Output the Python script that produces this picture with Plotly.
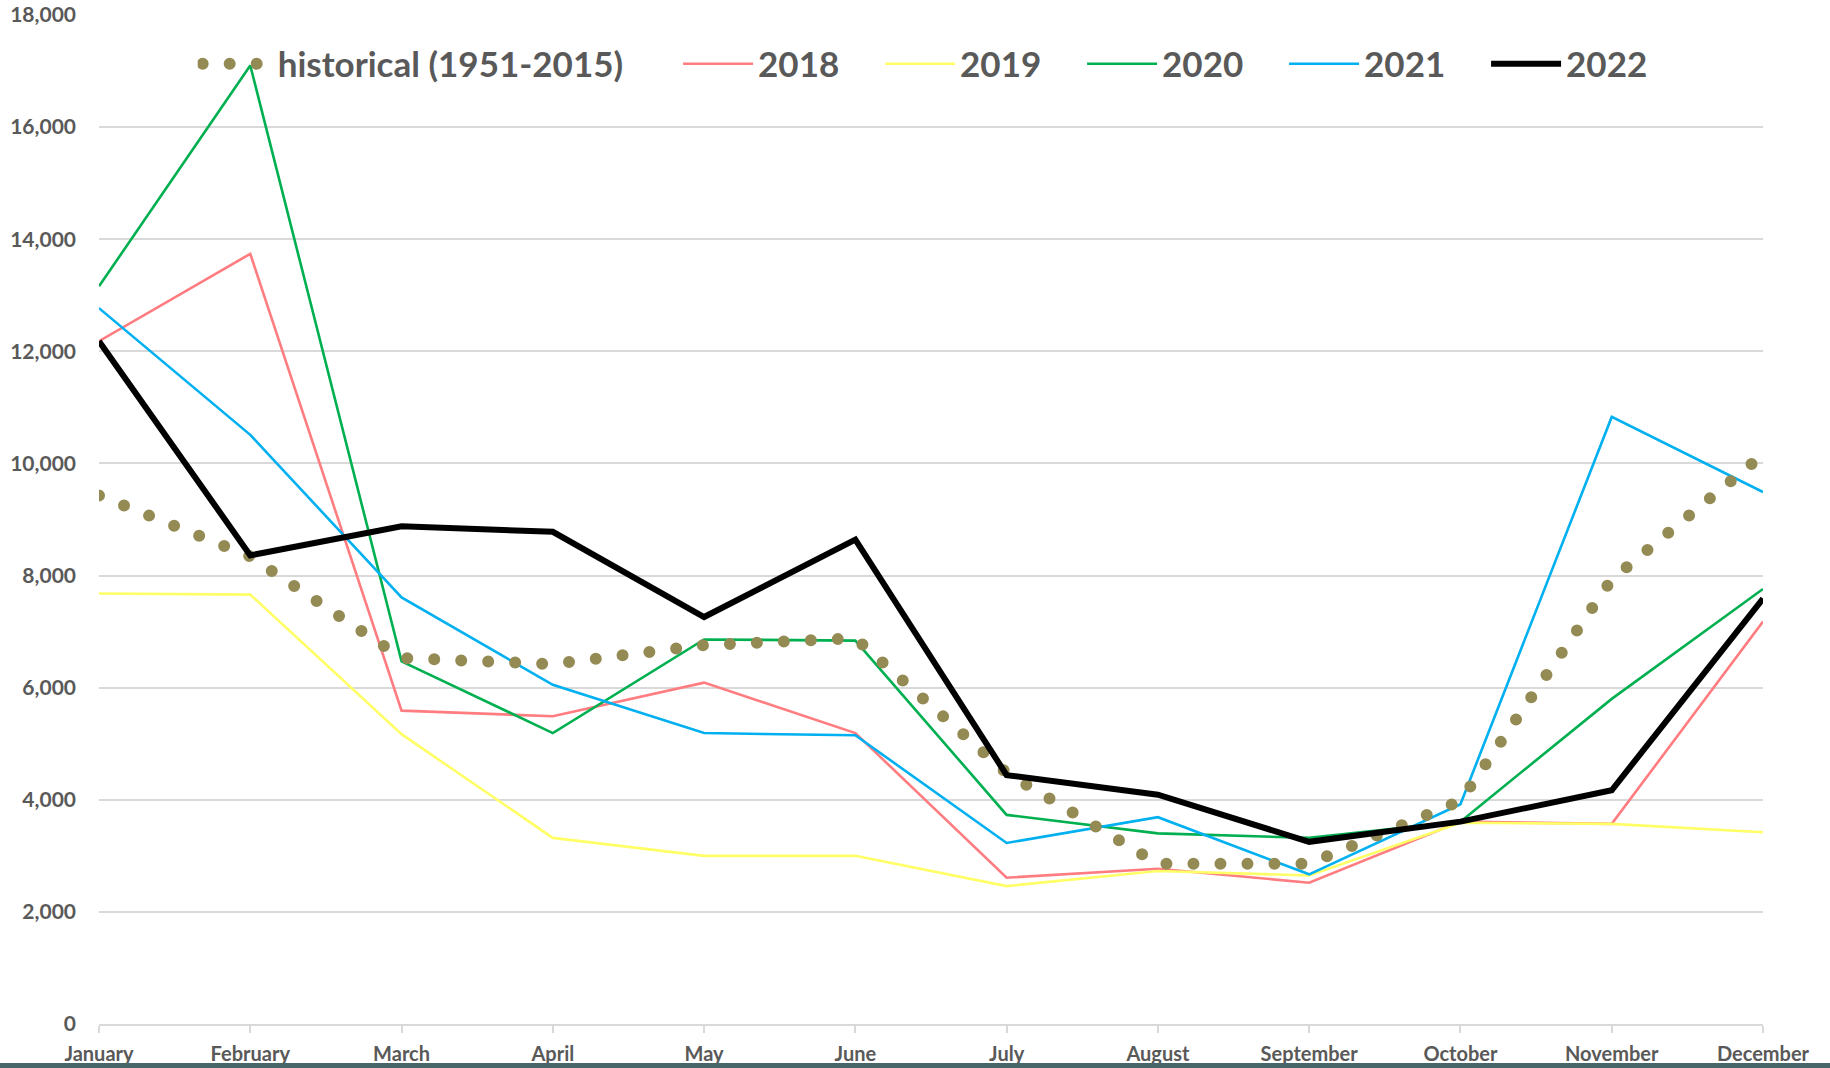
import plotly.graph_objects as go

months = ["January", "February", "March", "April", "May", "June", "July",
          "August", "September", "October", "November", "December"]

historical = [9430, 8340, 6530, 6420, 6760, 6880, 4480, 2860, 2860, 3980, 7930, 10160]
y2018 = [12180, 13740, 5590, 5490, 6090, 5190, 2610, 2770, 2520, 3610, 3570, 7180]
y2019 = [7680, 7660, 5170, 3320, 3000, 3000, 2460, 2730, 2650, 3590, 3570, 3420]
y2020 = [13160, 17100, 6470, 5190, 6860, 6840, 3730, 3400, 3320, 3610, 5800, 7760]
y2021 = [12770, 10510, 7610, 6050, 5190, 5150, 3230, 3690, 2670, 3920, 10830, 9490]
y2022 = [12180, 8360, 8880, 8780, 7260, 8640, 4440, 4090, 3250, 3610, 4170, 7590]

yticks = [0, 2000, 4000, 6000, 8000, 10000, 12000, 14000, 16000, 18000]

FONT = "Lato"
GREY = "#595959"

fig = go.Figure()

def add(name, vals, color, width, legend, dash="solid"):
    fig.add_trace(go.Scatter(
        x=months, y=vals, name=name, mode="lines",
        line=dict(color=color, width=width, dash=dash),
        legend=legend, hoverinfo="skip"))

add("2018", y2018, "#ff7c80", 2.6, "legend2")
add("2019", y2019, "#ffff66", 2.6, "legend2")
add("2020", y2020, "#00b050", 2.6, "legend2")
add("2021", y2021, "#00b0f0", 2.6, "legend2")
add("historical (1951-2015)", historical, "#948a54", 12, "legend", dash="dot")
add("2022", y2022, "#000000", 6, "legend2")

legend_font = dict(family=FONT, size=35, color=GREY, weight=700)

fig.update_layout(
    width=1830, height=1068,
    margin=dict(l=99, r=67, t=15, b=44, autoexpand=False),
    paper_bgcolor="white", plot_bgcolor="white",
    showlegend=True,
    legend=dict(orientation="h", x=0.0593, xanchor="left", y=0.9514, yanchor="middle",
                bgcolor="rgba(0,0,0,0)", font=legend_font, itemwidth=70,
                traceorder="normal"),
    legend2=dict(orientation="h", x=0.348, xanchor="left", y=0.9514, yanchor="middle",
                 bgcolor="rgba(0,0,0,0)", font=legend_font, itemwidth=70,
                 traceorder="normal", entrywidth=117),
    xaxis=dict(
        type="category", range=[0, 11], showgrid=False, automargin=False,
        showline=True, linecolor="#d9d9d9", linewidth=1.5,
        ticks="outside", ticklen=7, tickcolor="#d9d9d9", tickwidth=1.5,
        tickfont=dict(family=FONT, size=20, color=GREY, weight=700),
        ticklabelstandoff=4,
    ),
    yaxis=dict(
        range=[0, 18000], tickvals=yticks, tickformat=",", automargin=False,
        showgrid=True, gridcolor="#d9d9d9", gridwidth=1.5,
        zeroline=False, showline=False, ticks="",
        tickfont=dict(family=FONT, size=21, color=GREY, weight=700),
        ticklabelstandoff=22,
    ),
)

# dark band along the very bottom of the picture
fig.add_shape(type="rect", xref="paper", yref="paper",
              x0=-99 / 1664, x1=(1830 - 99) / 1664,
              y0=-(1068 - 1024) / 1009, y1=-(1063 - 1024) / 1009,
              fillcolor="#46666a", line=dict(width=0), layer="above")

post = """
var s = document.createElement('style');
s.innerHTML = 'html, body {margin: 0 !important; padding: 0 !important; overflow: hidden;} .scatterlayer .trace:nth-child(5) path.js-line, .legend .traces path.js-line {stroke-linecap: round !important; stroke-dasharray: 0 27px !important;} .legend .traces path.js-line {stroke-width: 12px !important;}';
document.head.appendChild(s);
"""

fig.write_html("out.html", post_script=post, config={"displayModeBar": False})
